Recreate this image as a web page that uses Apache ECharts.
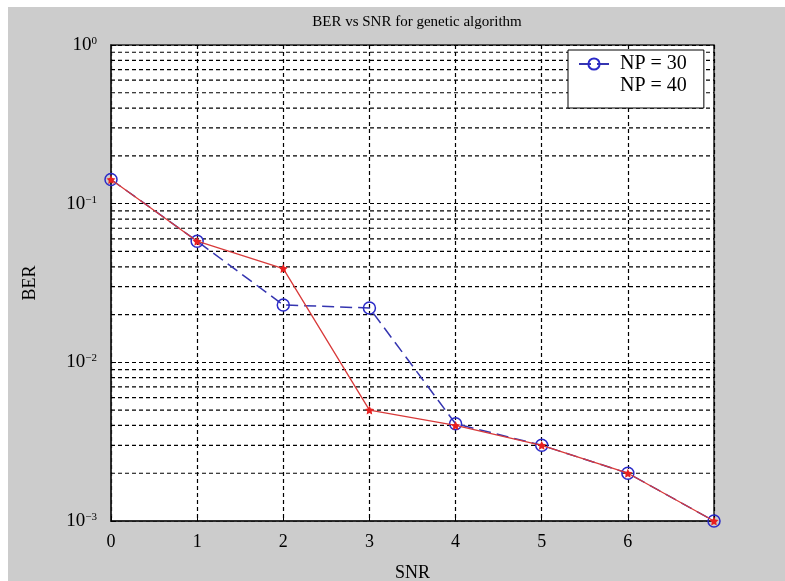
<!DOCTYPE html>
<html>
<head>
<meta charset="utf-8">
<script src="https://cdn.jsdelivr.net/npm/echarts@6/dist/echarts.min.js"></script>
<style>
  html, body { margin: 0; padding: 0; background: #ffffff; }
  #chart { position: absolute; left: 8px; top: 7px; width: 777px; height: 574px; background: #cccccc; }
</style>
</head>
<body>
<div id="chart"></div>
<script>
// ---- data ----
const snr = [0, 1, 2, 3, 4, 5, 6, 7];
const berNP30 = [0.142, 0.058, 0.023, 0.022, 0.0041, 0.0030, 0.0020, 0.0010];
const berNP40 = [0.142, 0.058, 0.039, 0.0050, 0.0040, 0.0030, 0.0020, 0.0010];
const xTickLabels = ['0', '1', '2', '3', '4', '5', '6', ''];
const seriesNames = ['NP = 30', 'NP = 40'];
// minor log grid values (2..9 x each decade)
const decades = [0.001, 0.01, 0.1];
const minorMultipliers = [2, 3, 4, 5, 6, 7, 8, 9];

const minorGrid = [];
decades.forEach(d => minorMultipliers.forEach(m => minorGrid.push(+(d * m).toPrecision(3))));

const serif = '"Liberation Serif", "DejaVu Serif", serif';
const gridDash = { color: '#000', width: 1.2, type: [4, 3] };
const star = 'path://M0,-10 L2.9,-4 9.5,-3.1 4.7,1.5 5.9,8.1 0,5 -5.9,8.1 -4.7,1.5 -9.5,-3.1 -2.9,-4Z';

function pairs(xs, ys) { return xs.map((x, i) => [x, ys[i]]); }

const xMin = snr[0], xMax = snr[snr.length - 1];
const minorSeries = minorGrid.map((v, i) => ({
  name: 'minor' + i, type: 'line', silent: true, z: 1,
  data: [[xMin, v], [xMax, v]],
  symbol: 'none', lineStyle: gridDash,
  emphasis: { disabled: true }, tooltip: { show: false }
}));

const chart = echarts.init(document.getElementById('chart'), null, { renderer: 'canvas' });
chart.setOption({
  animation: false,
  backgroundColor: '#cccccc',
  title: {
    text: 'BER vs SNR for genetic algorithm',
    left: 404, top: 3, textAlign: 'center',
    textStyle: { fontFamily: serif, fontSize: 15, fontWeight: 'normal', color: '#000' }
  },
  legend: {
    orient: 'vertical',
    left: 560, top: 43,
    padding: [4, 17, 12, 10],
    itemGap: 2,
    itemWidth: 30, itemHeight: 14,
    backgroundColor: '#ffffff',
    borderColor: '#000', borderWidth: 1, borderRadius: 0,
    textStyle: { fontFamily: serif, fontSize: 20, color: '#000', padding: [0, 0, 0, 6] },
    data: [
      { name: seriesNames[0] },
      { name: seriesNames[1], itemStyle: { opacity: 0 }, lineStyle: { opacity: 0 } }
    ]
  },
  grid: {
    left: 103, top: 38, width: 603, height: 476,
    outerBoundsMode: 'none', containLabel: false,
    show: true, backgroundColor: '#ffffff', borderColor: '#222', borderWidth: 1.5
  },
  xAxis: {
    type: 'value', min: 0, max: 7, interval: 1,
    name: 'SNR', nameLocation: 'middle', nameGap: 43,
    nameTextStyle: { fontFamily: serif, fontSize: 18, color: '#000' },
    axisLine: { show: true, lineStyle: { color: '#222', width: 1.5 } },
    axisTick: { show: true, inside: true, length: 5, lineStyle: { color: '#000' } },
    axisLabel: {
      margin: 12, fontFamily: serif, fontSize: 18, color: '#000',
      formatter: v => xTickLabels[snr.indexOf(v)] ?? ''
    },
    splitLine: { show: true, lineStyle: gridDash }
  },
  yAxis: {
    type: 'log', logBase: 10, min: 0.001, max: 1,
    name: 'BER', nameLocation: 'middle', nameGap: 72,
    nameTextStyle: { fontFamily: serif, fontSize: 18, color: '#000' },
    axisLine: { show: true, lineStyle: { color: '#222', width: 1.5 } },
    axisTick: { show: true, inside: true, length: 5, lineStyle: { color: '#000' } },
    axisLabel: {
      margin: 14, color: '#000',
      formatter: v => {
        const e = Math.round(Math.log10(v));
        return '{b|10}{e|' + (e < 0 ? '\u2212' + (-e) : e) + '}';
      },
      rich: {
        b: { fontFamily: serif, fontSize: 19, color: '#000' },
        e: { fontFamily: serif, fontSize: 11, color: '#000', verticalAlign: 'top', padding: [0, 0, 8, 0] }
      }
    },
    splitLine: { show: true, lineStyle: gridDash }
  },
  series: minorSeries.concat([
    {
      name: seriesNames[0], type: 'line', z: 3,
      data: pairs(snr, berNP30),
      symbol: 'circle', symbolSize: 12, showAllSymbol: true,
      itemStyle: { color: '#ffffff00', borderColor: '#2a2ac8', borderWidth: 1.5 },
      lineStyle: { color: '#3535b0', width: 1.5, type: [12, 6] }
    },
    {
      name: seriesNames[1], type: 'line', z: 4,
      data: pairs(snr, berNP40),
      symbol: star, symbolSize: 9, showAllSymbol: true,
      itemStyle: { color: '#e82020', borderWidth: 0 },
      lineStyle: { color: '#d83a3a', width: 1.3, type: 'solid' }
    }
  ])
});
</script>
</body>
</html>
